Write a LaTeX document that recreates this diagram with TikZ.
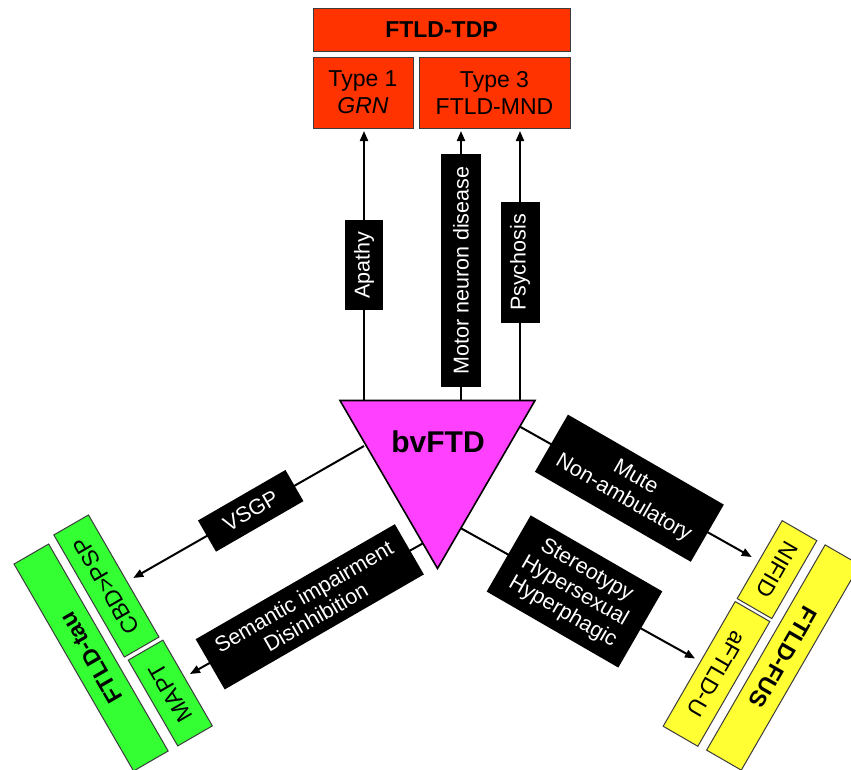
\documentclass[tikz,border=0pt]{standalone}
\usepackage{fontspec}
\setmainfont{Liberation Sans}
\usetikzlibrary{calc,arrows.meta}
\definecolor{tdpred}{RGB}{255,51,0}
\definecolor{bvmag}{RGB}{255,64,255}
\definecolor{taugreen}{RGB}{51,255,51}
\definecolor{fusyellow}{RGB}{255,255,51}
\definecolor{edgegrey}{RGB}{60,60,60}
\newcommand\lblfont{\fontsize{21.5}{24}\selectfont}
\newcommand\boxfont{\fontsize{23}{27}\selectfont}
\newcommand\bvfont{\fontsize{30}{34}\selectfont\bfseries}
\begin{document}
\begin{tikzpicture}[x=1pt,y=-1pt,
  box/.style={draw=edgegrey, line width=1pt, inner sep=0pt, align=center, text=black, font=\boxfont},
  redbox/.style={box, fill=tdpred},
  greenbox/.style={box, fill=taugreen, minimum height=40pt},
  yellowbox/.style={box, fill=fusyellow, minimum height=40pt},
  lbl/.style={fill=black, text=white, inner sep=0pt, align=center, font=\lblfont},
  link/.style={line width=2pt, -{Triangle[length=10pt,width=8pt]}}
]
\useasboundingbox (0,0) rectangle (851,769);

% top targets
\node[redbox, minimum width=257pt, minimum height=43pt] (tdp) at (441.5,29.5) {\bfseries FTLD-TDP};
\node[redbox, minimum width=100pt, minimum height=71pt] (type1) at (363,92.5) {Type 1\\\itshape GRN};
\node[redbox, minimum width=151pt, minimum height=71pt] (type3) at (494.5,92.5) {Type 3\\FTLD-MND};

% arrow coordinates
\coordinate (a1s) at (364,401);   \coordinate (a1e) at (364,131);
\coordinate (a2s) at (461,401);   \coordinate (a2e) at (461,131);
\coordinate (a3s) at (520,401);   \coordinate (a3e) at (520,131);
\coordinate (l1s) at (364,446);   \coordinate (l1e) at (133.3,578);
\coordinate (l2s) at (423,543.3); \coordinate (l2e) at (190,674);
\coordinate (r1s) at (520,426.7); \coordinate (r1e) at (751.7,557);
\coordinate (r2s) at (461,528.3); \coordinate (r2e) at (695,658.5);

\draw[link] (a1s) -- (a1e);
\draw[link] (a2s) -- (a2e);
\draw[link] (a3s) -- (a3e);
\draw[link] (l1s) -- (l1e);
\draw[link] (l2s) -- (l2e);
\draw[link] (r1s) -- (r1e);
\draw[link] (r2s) -- (r2e);

% central triangle
\coordinate (tl) at (340,400.5);
\coordinate (tr) at (535,400.5);
\coordinate (tb) at (437.5,568.5);
\draw[fill=bvmag, line width=1.6pt, line join=miter] (tl) -- (tr) -- (tb) -- cycle;
\node[font=\bvfont] (bv) at (438,442) {bvFTD};

% feature labels
\node[lbl, rotate=90, minimum width=90pt, minimum height=38pt] (apathy) at ($(a1s)!0.504!(a1e)$) {Apathy};
\node[lbl, rotate=90, minimum width=233pt, minimum height=40pt] (mnd) at ($(a2s)!0.483!(a2e)$) {Motor neuron disease};
\node[lbl, rotate=90, minimum width=121pt, minimum height=39pt] (psych) at ($(a3s)!0.513!(a3e)$) {Psychosis};
\node[lbl, rotate=30, minimum width=101pt, minimum height=36pt] (vsgp) at ($(l1s)!0.491!(l1e)$) {VSGP};
\node[lbl, rotate=30, minimum width=230pt, minimum height=58pt] (sem) at ($(l2s)!0.486!(l2e)$) {Semantic impairment\\Disinhibition};
\node[lbl, rotate=-30, minimum width=180pt, minimum height=66pt] (mute) at ($(r1s)!0.472!(r1e)$) {Mute\\Non-ambulatory};
\node[lbl, rotate=-30, minimum width=152pt, minimum height=88pt] (stereo) at ($(r2s)!0.485!(r2e)$) {Stereotypy\\Hypersexual\\Hyperphagic};

% left targets (FTLD-tau)
\node[greenbox, rotate=120, minimum width=239pt] (tau) at (91.1,657.5) {\bfseries FTLD-tau};
\node[greenbox, rotate=120, minimum width=141pt] (cbd) at (106.4,586) {CBD>PSP};
\node[greenbox, rotate=120, minimum width=99pt] (mapt) at (170.3,693) {MAPT};

% right targets (FTLD-FUS)
\node[yellowbox, rotate=-120, minimum width=237pt] (fus) at (783.2,657.5) {\bfseries FTLD-FUS};
\node[yellowbox, rotate=-120, minimum width=90pt] (nifid) at (777,569.6) {NIFID};
\node[yellowbox, rotate=-120, minimum width=144pt] (aftld) at (716.5,673.9) {aFTLD-U};
\end{tikzpicture}
\end{document}
